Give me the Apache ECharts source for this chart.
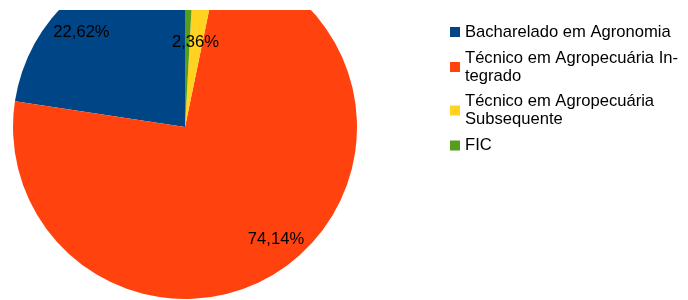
<!DOCTYPE html>
<html lang="pt" style="width: 100%;height:100%">
    <head>
        <meta charset="UTF-8">
        <title>Cursos</title>
        <script src="https://cdn.jsdelivr.net/npm/echarts@6.0.0/dist/echarts.min.js"></script>
    </head>
    <body style="width: 100%;height:100%;margin:0">
        <div id="pie" style="width: 688px;height:300px"></div>
        <script>
            // dados
            const categories = ['Bacharelado em Agronomia', 'Técnico em Agropecuária Integrado', 'Técnico em Agropecuária Subsequente', 'FIC'];
            const legendLabels = ['Bacharelado em Agronomia', 'Técnico em Agropecuária In-\ntegrado', 'Técnico em Agropecuária\nSubsequente', 'FIC'];
            const percents = [22.62, 74.14, 2.36, 0.88];
            const colors = ['#004586', '#ff420e', '#ffd320', '#579d1c'];
            // quais fatias mostram rotulo (fora do miolo / no miolo)
            const outerLabel = [true, true, false, false];
            const innerLabel = [false, false, true, false];

            const fmt = function (v) {
                return v.toFixed(2).replace('.', ',') + '%';
            };

            const mainData = [];
            const ghostData = [];
            for (let i = 0; i < categories.length; i++) {
                mainData.push({
                    name: categories[i],
                    value: percents[i],
                    itemStyle: { color: colors[i] },
                    label: { show: innerLabel[i] }
                });
                ghostData.push({
                    name: categories[i],
                    value: percents[i],
                    label: { show: outerLabel[i] }
                });
            }

            const myChart = echarts.init(document.getElementById('pie'));

            const labelStyle = {
                position: 'inside',
                color: '#000',
                fontSize: 16.6,
                fontFamily: 'Liberation Sans',
                offset: [-1, 4],
                formatter: function (p) { return fmt(p.value); }
            };

            const option = {
                animation: false,
                legend: {
                    orient: 'vertical',
                    left: 450,
                    top: 23,
                    padding: 0,
                    itemWidth: 10,
                    itemHeight: 10,
                    itemGap: 8.5,
                    icon: 'rect',
                    data: categories,
                    formatter: function (name) {
                        return legendLabels[categories.indexOf(name)];
                    },
                    textStyle: {
                        color: '#000',
                        fontSize: 16.6,
                        fontFamily: 'Liberation Sans',
                        lineHeight: 18,
                        height: 18
                    }
                },
                graphic: [{
                    type: 'rect',
                    z: 100,
                    shape: { x: 0, y: 0, width: 688, height: 10 },
                    style: { fill: '#fff' }
                }],
                series: [
                    {
                        name: 'Cursos',
                        type: 'pie',
                        center: [185, 127],
                        radius: [0, 172],
                        startAngle: 90,
                        clockwise: false,
                        silent: true,
                        itemStyle: { borderWidth: 0 },
                        label: labelStyle,
                        labelLine: { show: false },
                        data: mainData
                    },
                    {
                        // serie transparente so para posicionar os rotulos maiores
                        name: 'rotulos',
                        type: 'pie',
                        center: [185, 127],
                        radius: [0, 278],
                        startAngle: 95.5,
                        clockwise: false,
                        silent: true,
                        itemStyle: { color: 'rgba(0,0,0,0)', borderWidth: 0 },
                        label: labelStyle,
                        labelLine: { show: false },
                        data: ghostData
                    }
                ]
            };

            myChart.setOption(option);
        </script>
    </body>
</html>
